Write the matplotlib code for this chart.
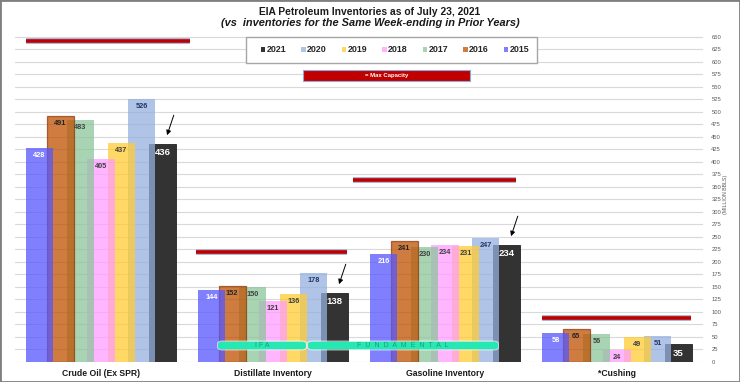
import numpy as np
import matplotlib
matplotlib.use('Agg')
import matplotlib.pyplot as plt
from matplotlib.patches import Patch, Rectangle, FancyBboxPatch

plt.rcParams['font.family'] = ['Liberation Sans', 'DejaVu Sans']

# data
categories = ['Crude Oil (Ex SPR)', 'Distillate Inventory', 'Gasoline Inventory', '*Cushing']
years = ['2015', '2016', '2017', '2018', '2019', '2020', '2021']
v2015 = [428, 144, 216, 58]
v2016 = [491, 152, 241, 65]
v2017 = [483, 150, 230, 56]
v2018 = [405, 121, 234, 24]
v2019 = [437, 136, 231, 49]
v2020 = [526, 178, 247, 51]
v2021 = [436, 138, 234, 35]
max_capacity = [642, 219, 363, 87]
arrow_groups = [0, 1, 2]

series = [v2015, v2016, v2017, v2018, v2019, v2020, v2021]

# styles
bar_colors = ['#5656ff', '#c05000', '#8cc69b', '#ff9cff', '#ffcc33', '#96b0e0', '#333333']
legend_colors = ['#8080ff', '#d07c3e', '#a9d4b4', '#ffb5ff', '#ffd966', '#b0c4e8', '#333333']
label_colors = ['white', '#262626', '#404040', '#404040', '#404040', '#1f3864', 'white']
cap_lo = [-0.436, -0.448, -0.535, -0.436]
cap_hi = [0.517, 0.430, 0.413, 0.430]

W, H = 740, 382
def fx(px):
    return px / W
def fy(py):
    return 1 - py / H

fig = plt.figure(figsize=(7.4, 3.82), dpi=100)
ax = fig.add_axes([fx(15), fy(361.7), fx(703) - fx(15), (655 * 0.5) / H])

x = np.arange(len(categories))
step = 0.119
width = 0.157

# draw right-most bars first so earlier years sit on top
for i in reversed(range(len(years))):
    off = (i - 3) * step
    if years[i] == '2021':
        ax.bar(x + off, series[i], width, color=bar_colors[i], edgecolor='#222222',
               linewidth=0.6, zorder=2 + (6 - i))
    elif years[i] == '2016':
        ax.bar(x + off, series[i], width, color=bar_colors[i], alpha=0.75,
               edgecolor='#8b3a10', linewidth=0.9, zorder=2 + (6 - i))
    else:
        ax.bar(x + off, series[i], width, color=bar_colors[i], alpha=0.75,
               linewidth=0, zorder=2 + (6 - i))

# value labels
for i in range(len(years)):
    off = (i - 3) * step
    for j, v in enumerate(series[i]):
        if years[i] == '2021':
            ax.text(x[j] + off, v - 18, str(v), ha='center', va='center',
                    fontsize=6.8, fontweight='bold', color=label_colors[i], zorder=20)
        else:
            ax.text(x[j] + off, v - 15, str(v), ha='center', va='center',
                    fontsize=5.3, fontweight='bold', color=label_colors[i], zorder=20)

# max capacity lines
for j, cap in enumerate(max_capacity):
    ax.hlines(cap, x[j] + cap_lo[j], x[j] + cap_hi[j], color='#9fb4d8', lw=4.2,
              capstyle='butt', zorder=15)
    ax.hlines(cap, x[j] + cap_lo[j], x[j] + cap_hi[j], color='#c00000', lw=2.6,
              capstyle='butt', zorder=16)

# arrows to 2021 bars
for j in arrow_groups:
    bx = x[j] + 3 * step
    ax.annotate('', xy=(bx + 0.027, v2021[j] + 17), xytext=(bx + 0.066, v2021[j] + 57),
                arrowprops=dict(arrowstyle='-|>', color='black', lw=0.7,
                                mutation_scale=7, shrinkA=0, shrinkB=0), zorder=20)

ax.set_xlim(-0.5, 3.5)
ax.set_ylim(0, 655)
ax.set_yticks(np.arange(0, 651, 25))
ax.yaxis.tick_right()
ax.tick_params(axis='y', length=0, labelsize=4.2, labelcolor='#595959', pad=6)
ax.set_xticks(x)
ax.set_xticklabels(categories, fontsize=6.2, fontweight='bold', color='#1a1a1a')
ax.tick_params(axis='x', length=0, pad=5)
ax.grid(axis='y', color='#d9d9d9', lw=0.8, zorder=0)
ax.set_axisbelow(True)
for s in ax.spines.values():
    s.set_visible(False)

fig.text(fx(725), fy(194), '(MILLION BBLS)', rotation=90, ha='center', va='center',
         fontsize=3.8, color='#595959')

# titles
fig.text(0.5, fy(12), 'EIA Petroleum Inventories as of July 23, 2021', ha='center',
         va='center', fontsize=7.4, fontweight='bold', color='#1a1a1a')
fig.text(0.5, fy(23.5), '(vs  inventories for the Same Week-ending in Prior Years)',
         ha='center', va='center', fontsize=7.9, fontweight='bold', style='italic',
         color='#1a1a1a')

# legend box
fig.patches.append(Rectangle((fx(246), fy(62.7)), fx(537) - fx(246), (62.7 - 36.7) / H,
                             transform=fig.transFigure, facecolor='white',
                             edgecolor='#a6a6a6', lw=1, zorder=3))
handles = [Patch(facecolor=legend_colors[i], edgecolor='none', label=years[i])
           for i in reversed(range(len(years)))]
leg = fig.legend(handles=handles, loc='center', bbox_to_anchor=(fx(395), fy(49.7)),
                 ncol=7, frameon=False, fontsize=6.4, handlelength=0.5, handleheight=0.5,
                 handletextpad=0.15, columnspacing=1.7, borderpad=0)
for t in leg.get_texts():
    t.set_fontweight('bold')
    t.set_color('#262626')
leg.set_zorder(4)

# max capacity key
fig.patches.append(Rectangle((fx(303), fy(81)), fx(470) - fx(303), 11 / H,
                             transform=fig.transFigure, facecolor='#c00000',
                             edgecolor='#8ea9db', lw=0.8, zorder=3))
fig.text(fx(386.5), fy(75.7), '= Max Capacity', ha='center', va='center', fontsize=4.3,
         fontweight='bold', color='white', zorder=4)

# watermark pills
for (x0, x1), txt in [((218, 306), 'I F A'), ((308, 498), 'F  U  N  D  A  M  E  N  T  A  L')]:
    fig.patches.append(FancyBboxPatch((fx(x0 - 1), fy(350.5)), fx(x1 + 1) - fx(x0 - 1), 10 / H,
                                      boxstyle='round,pad=0,rounding_size=0.008',
                                      transform=fig.transFigure, facecolor='white',
                                      edgecolor='none', alpha=0.6, zorder=5))
    fig.patches.append(FancyBboxPatch((fx(x0), fy(349.3)), fx(x1) - fx(x0), 7.6 / H,
                                      boxstyle='round,pad=0,rounding_size=0.006',
                                      transform=fig.transFigure, facecolor='#26e8b2',
                                      edgecolor='none', zorder=6))
    fig.text(fx((x0 + x1) / 2), fy(345.5), txt, ha='center', va='center', fontsize=5,
             color='#1a9c80', zorder=7)

# outer border
fig.patches.append(Rectangle((0, 0), 1, 1, transform=fig.transFigure, fill=False,
                             edgecolor='#7f7f7f', lw=2, zorder=10))

fig.savefig('out.png', dpi=100)
